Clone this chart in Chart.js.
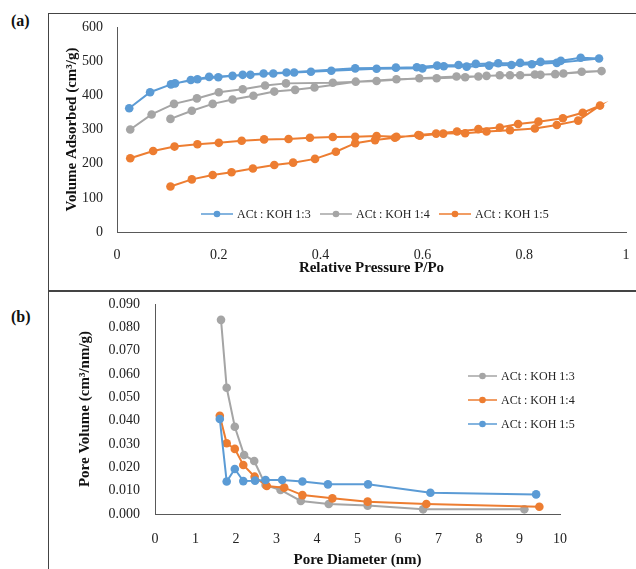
<!DOCTYPE html>
<html>
<head>
<meta charset="utf-8">
<script src="https://cdn.jsdelivr.net/npm/chart.js@4.4.1/dist/chart.umd.min.js"></script>
<style>
  body { margin: 0; background: #fff; width: 636px; height: 569px; overflow: hidden; position: relative; font-family: "Liberation Serif", serif; }
  .cadre { position: absolute; left: 48px; top: 13px; width: 600px; height: 600px; border-top: 1px solid #444; border-left: 1px solid #444; }
  .separateur { position: absolute; left: 48px; top: 290px; width: 600px; height: 0; border-top: 2px solid #444; }
  .lettre { position: absolute; left: 11px; font-weight: bold; font-size: 16px; color: #111; }
  canvas { position: absolute; left: 48px; }
</style>
</head>
<body>
<div class="cadre"></div>
<div class="separateur"></div>
<div class="lettre" style="top:12px">(a)</div>
<div class="lettre" style="top:308px">(b)</div>
<canvas id="graphique-isothermes" width="588" height="278" style="top:13px"></canvas>
<canvas id="graphique-pores" width="588" height="278" style="top:291px"></canvas>
<script>
// (a) isothermes d'adsorption : P/Po et volume adsorbé (montée puis descente)
const pression13 = [0.024, 0.065, 0.106, 0.145, 0.181, 0.227, 0.262, 0.307, 0.348, 0.381, 0.421, 0.510, 0.600, 0.642, 0.687, 0.731, 0.775, 0.815, 0.864, 0.947,
    0.911, 0.872, 0.832, 0.792, 0.749, 0.705, 0.671, 0.629, 0.589, 0.548, 0.468, 0.333, 0.288, 0.247, 0.199, 0.158, 0.114];
const volume13 = [362, 409, 432, 445, 454, 457, 460, 464, 467, 469, 472, 478, 479, 485, 484, 487, 489, 491, 495, 508,
    510, 501, 498, 495, 494, 492, 489, 487, 482, 481, 479, 467, 464, 460, 453, 447, 435];

const pression14 = [0.026, 0.068, 0.112, 0.157, 0.200, 0.247, 0.291, 0.332, 0.424, 0.510, 0.594, 0.667, 0.710, 0.752, 0.792, 0.832, 0.877, 0.952,
    0.913, 0.861, 0.821, 0.772, 0.726, 0.684, 0.628, 0.549, 0.469, 0.388, 0.350, 0.309, 0.268, 0.227, 0.188, 0.147, 0.105];
const volume14 = [300, 344, 375, 391, 409, 418, 429, 435, 437, 442, 450, 455, 455, 459, 459, 460, 464, 471,
    469, 462, 461, 459, 457, 453, 450, 447, 440, 423, 416, 411, 399, 388, 375, 355, 331];

const pression15 = [0.026, 0.071, 0.113, 0.158, 0.200, 0.245, 0.289, 0.337, 0.379, 0.424, 0.468, 0.510, 0.549, 0.595, 0.641, 0.684, 0.726, 0.772, 0.821, 0.864, 0.906, 0.949,
    0.915, 0.876, 0.828, 0.788, 0.752, 0.710, 0.668, 0.627, 0.592, 0.546, 0.507, 0.468, 0.430, 0.389, 0.346, 0.309, 0.267, 0.225, 0.188, 0.147, 0.105];
const volume15 = [216, 237, 250, 257, 261, 267, 271, 272, 276, 278, 279, 281, 279, 282, 288, 289, 294, 298, 303, 313, 326, 370,
    349, 333, 323, 316, 306, 301, 294, 288, 284, 276, 269, 260, 235, 214, 203, 196, 186, 175, 167, 154, 133];

// (b) distribution de taille des pores
const diametre13 = [1.63, 1.77, 1.97, 2.20, 2.45, 2.73, 3.10, 3.60, 4.29, 5.25, 6.62, 9.12];
const poreVol13 = [0.0832, 0.0541, 0.0374, 0.0253, 0.0227, 0.0124, 0.0103, 0.0056, 0.0043, 0.0036, 0.0020, 0.0020];
const diametre14 = [1.60, 1.77, 1.97, 2.18, 2.46, 2.76, 3.19, 3.64, 4.38, 5.25, 6.70, 9.49];
const poreVol14 = [0.0421, 0.0303, 0.0279, 0.0210, 0.0160, 0.0120, 0.0113, 0.0081, 0.0067, 0.0053, 0.0043, 0.0031];
const diametre15 = [1.60, 1.77, 1.97, 2.18, 2.47, 2.73, 3.14, 3.64, 4.27, 5.26, 6.80, 9.41];
const poreVol15 = [0.0407, 0.0139, 0.0193, 0.0141, 0.0143, 0.0146, 0.0146, 0.0139, 0.0127, 0.0127, 0.0091, 0.0084];

const labelsIsothermes = ["ACt : KOH 1:3", "ACt : KOH 1:4", "ACt : KOH 1:5"];
const labelsPores = ["ACt : KOH 1:3", "ACt : KOH 1:4", "ACt : KOH 1:5"];

const BLEU = "#5B9BD5";
const GRIS = "#A5A5A5";
const ORANGE = "#ED7D31";
const POLICE = "'Liberation Serif', 'Times New Roman', serif";

function points(xs, ys) {
    return xs.map((x, i) => ({ x: x, y: ys[i] }));
}

function serie(label, xs, ys, couleur, ordre) {
    return {
        label: label,
        data: points(xs, ys),
        showLine: true,
        borderColor: couleur,
        backgroundColor: couleur,
        borderWidth: 2,
        pointRadius: 4.3,
        pointBorderWidth: 0,
        order: ordre,
    };
}

// Légende dessinée à la main (trait + rond comme dans Excel)
const legendeExcel = {
    id: "legendeExcel",
    afterDraw(chart, args, opts) {
        const ctx = chart.ctx;
        ctx.save();
        ctx.font = "12px " + POLICE;
        ctx.textBaseline = "middle";
        chart.data.datasets.forEach((ds, i) => {
            const x = opts.x + (opts.horizontal ? i * opts.pas : 0);
            const y = opts.y + (opts.horizontal ? 0 : i * opts.pas);
            ctx.strokeStyle = ds.borderColor;
            ctx.lineWidth = 1.5;
            ctx.beginPath();
            ctx.moveTo(x, y);
            ctx.lineTo(x + opts.trait, y);
            ctx.stroke();
            ctx.fillStyle = ds.borderColor;
            ctx.beginPath();
            ctx.arc(x + opts.trait / 2, y, 3.3, 0, Math.PI * 2);
            ctx.fill();
            ctx.fillStyle = "#222";
            ctx.fillText(ds.label, x + opts.trait + 4, y + 1);
        });
        ctx.restore();
    }
};

function axe(min, max, pas, titre, cote, largeur, paddingTick, paddingTitre, format) {
    const a = {
        type: "linear",
        min: min,
        max: max,
        grid: { display: false, drawTicks: false },
        border: { display: true, color: "#595959", width: 1 },
        ticks: {
            stepSize: pas,
            padding: paddingTick,
            color: "#222",
            font: { family: POLICE, size: 14 },
        },
        title: {
            display: true,
            text: titre,
            color: "#111",
            font: { family: POLICE, size: 15, weight: "bold" },
            padding: paddingTitre,
        },
        afterFit: function (scale) {
            // taille fixe de l'axe, sans marge ajoutée pour les étiquettes
            if (cote === "y") {
                scale.width = largeur;
            } else {
                scale.height = largeur;
            }
            scale.paddingTop = 0;
            scale.paddingBottom = 0;
            scale.paddingLeft = 0;
            scale.paddingRight = 0;
        },
    };
    if (format) {
        a.ticks.callback = format;
    }
    return a;
}

// Graphique (a)
const configIsothermes = {
    type: "scatter",
    data: {
        datasets: [
            serie(labelsIsothermes[0], pression13, volume13, BLEU, 3),
            serie(labelsIsothermes[1], pression14, volume14, GRIS, 2),
            serie(labelsIsothermes[2], pression15, volume15, ORANGE, 1),
        ],
    },
    options: {
        responsive: false,
        animation: false,
        devicePixelRatio: 1,
        layout: { padding: { left: 0, right: 10, top: 14, bottom: 0 } },
        plugins: {
            legend: { display: false },
            tooltip: { enabled: false },
            legendeExcel: { x: 153, y: 201, pas: 119, trait: 32, horizontal: true },
        },
        scales: {
            x: axe(0, 1, 0.2, "Relative Pressure P/Po", "x", 59, 15, { top: 0, bottom: 14 },
                function (v) { return String(Math.round(v * 10) / 10); }),
            y: axe(0, 600, 100, "Volume Adsorbed (cm³/g)", "y", 69, 14, { top: 15, bottom: 0 }),
        },
    },
    plugins: [legendeExcel],
};

new Chart(document.querySelector("#graphique-isothermes"), configIsothermes);

// Graphique (b)
const configPores = {
    type: "scatter",
    data: {
        datasets: [
            serie(labelsPores[0], diametre13, poreVol13, GRIS, 3),
            serie(labelsPores[1], diametre14, poreVol14, ORANGE, 2),
            serie(labelsPores[2], diametre15, poreVol15, BLEU, 1),
        ],
    },
    options: {
        responsive: false,
        animation: false,
        devicePixelRatio: 1,
        layout: { padding: { left: 0, right: 76, top: 13, bottom: 0 } },
        plugins: {
            legend: { display: false },
            tooltip: { enabled: false },
            legendeExcel: { x: 420, y: 85, pas: 24, trait: 29, horizontal: false },
        },
        scales: {
            x: axe(0, 10, 1, "Pore Diameter (nm)", "x", 55, 17, { top: 0, bottom: 0 }),
            y: axe(0, 0.09, 0.01, "Pore Volume (cm³/nm/g)", "y", 107, 15, { top: 28, bottom: 0 },
                function (v) { return v.toFixed(3); }),
        },
    },
    plugins: [legendeExcel],
};

new Chart(document.querySelector("#graphique-pores"), configPores);
</script>
</body>
</html>
